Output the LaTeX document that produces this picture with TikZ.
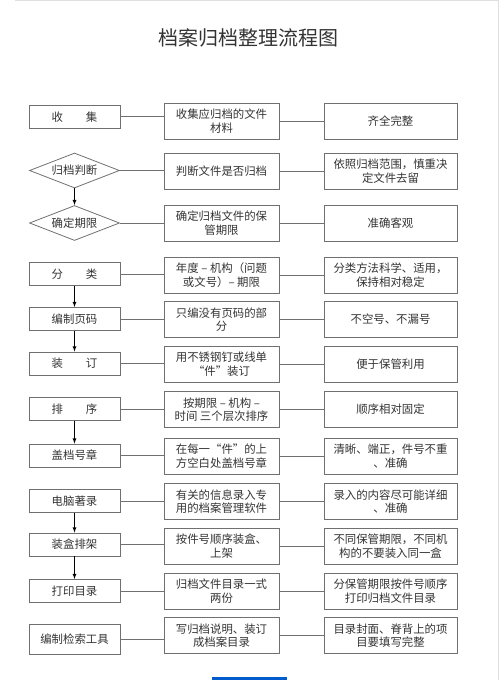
\documentclass[tikz,border=0pt]{standalone}
\usepackage{fontspec}
\setmainfont{Noto Sans CJK SC}
\usetikzlibrary{arrows,shapes.geometric}
\definecolor{boxline}{HTML}{707070}
\definecolor{boxtext}{HTML}{333333}
\tikzset{
	cell/.style={draw=boxline, line width=0.8pt, inner sep=1pt, text=boxtext, align=center, font=\fontsize{11.4}{13.5}\selectfont},
	lbox/.style={cell, minimum width=91pt, minimum height=23pt},
	lbig/.style={cell, minimum width=91pt, minimum height=30pt},
	ldia/.style={cell, diamond, aspect=2.6, minimum width=90pt, minimum height=35pt, inner sep=0pt},
	mbox/.style={cell, minimum width=115pt, minimum height=36pt},
	rbox/.style={cell, minimum width=133pt, minimum height=36pt},
	link/.style={draw=boxline, line width=0.8pt},
	arr/.style={->, black, line width=0.8pt}
}

\begin{document}
\begin{tikzpicture}[>=latex, x=1pt, y=-1pt]
	\useasboundingbox (0,0) rectangle (500,680);
	\draw[gray!25] (15,0.5) -- (498,0.5) -- (498,680);
	\fill[blue!55!cyan!80!black] (212,677) rectangle (287,681);
	\node[text=boxtext, font=\fontsize{20}{24}\selectfont] (title) at (248,38) {档案归档整理流程图};
	\foreach \i/\s/\yl/\ym/\ta/\tb/\tc in {
		1/lbox/116.7/121/{收\hspace{2em}集}/{收集应归档的文件\\材料}/{齐全完整},
		2/ldia/170.5/171/{归档判断}/{判断文件是否归档}/{依照归档范围，慎重决\\定文件去留},
		3/ldia/223/223/{确定期限}/{确定归档文件的保\\管期限}/{准确客观},
		4/lbox/274/275/{分\hspace{2em}类}/{年度 – 机构（问题\\或文号）– 期限}/{分类方法科学、适用，\\保持相对稳定},
		5/lbox/319/319.5/{编制页码}/{只编没有页码的部\\分}/{不空号、不漏号},
		6/lbox/363.5/364/{装\hspace{2em}订}/{用不锈钢钉或线单\\“件”装订}/{便于保管利用},
		7/lbox/409/409.5/{排\hspace{2em}序}/{按期限 – 机构 –\\时间 三个层次排序}/{顺序相对固定},
		8/lbox/455.5/456/{盖档号章}/{在每一“件”的上\\方空白处盖档号章}/{清晰、端正，件号不重\\、准确},
		9/lbox/501/501.5/{电脑著录}/{有关的信息录入专\\用的档案管理软件}/{录入的内容尽可能详细\\、准确},
		10/lbox/544.5/546/{装盒排架}/{按件号顺序装盒、\\上架}/{不同保管期限，不同机\\构的不要装入同一盒},
		11/lbox/591/591/{打印目录}/{归档文件目录一式\\两份}/{分保管期限按件号顺序\\打印归档文件目录},
		12/lbig/639/635.5/{编制检索工具}/{写归档说明、装订\\成档案目录}/{目录封面、脊背上的项\\目要填写完整}}{
		\node[\s] (l\i) at (74.5,\yl) {\ta};
		\node[mbox] (m\i) at (221.5,\ym) {\tb};
		\node[rbox] (r\i) at (390.5,\ym) {\tc};
		\draw[link] (l\i.east) -- (l\i.east -| m\i.west);
		\draw[link] (m\i.east) -- (m\i.east -| r\i.west);
	}
	\foreach \a/\b in {2/3,4/5,5/6,7/8,9/10,10/11}
		\draw[arr] (l\a) -- (l\b);
\end{tikzpicture}
\end{document}
